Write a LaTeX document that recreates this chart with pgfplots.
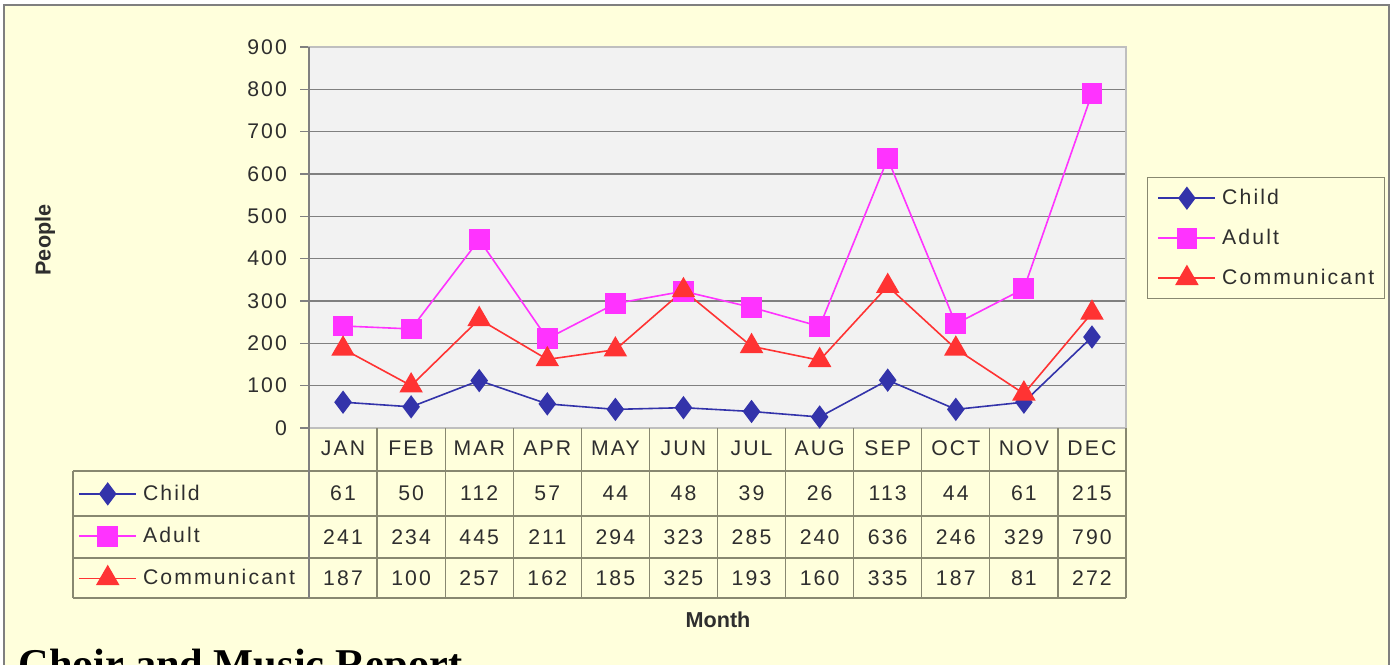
\documentclass[border=0pt]{standalone}
\usepackage{pgfplots}
\pgfplotsset{compat=1.18}
\usepackage{fontspec}
\setmainfont{Liberation Sans}[LetterSpace=10]
\newfontfamily\plainsans{Liberation Sans}
\newfontfamily\titlefont{Liberation Serif}
\definecolor{bgy}{HTML}{FFFFDC}
\definecolor{plotbg}{HTML}{F2F2F2}
\definecolor{txt}{HTML}{2E2E2E}
\definecolor{cblue}{HTML}{3333AA}
\definecolor{cmag}{HTML}{FF33FF}
\definecolor{cred}{HTML}{FF3333}
\definecolor{tline}{RGB}{136,136,112}
\definecolor{frame}{HTML}{7F7F7F}
\newcommand\lbl{\fontsize{10.6pt}{12pt}\selectfont}
\pgfplotsset{
  childstyle/.style={color=cblue, line width=0.8pt, mark=diamond*, mark size=5.2pt, mark options={solid, fill=cblue}},
  adultstyle/.style={color=cmag, line width=0.8pt, mark=square*, mark size=4.8pt, mark options={solid, fill=cmag}},
  commstyle/.style={color=cred, line width=0.8pt, mark=triangle*, mark size=6pt, mark options={solid, fill=cred}},
}
\tikzset{tab/.style={font=\lbl, text=txt, anchor=center, inner sep=0pt}}
\begin{document}
\begin{tikzpicture}
\useasboundingbox (0pt,0pt) rectangle (697.5pt,332pt);
\clip (0pt,0pt) rectangle (697.5pt,332pt);
\fill[bgy] (2pt,-10pt) rectangle (694.5pt,329.5pt);
\draw[frame, line width=0.75pt] (2pt,-10pt) -- (2pt,329.5pt) -- (694.5pt,329.5pt) -- (694.5pt,-10pt);
\begin{axis}[
  at={(154.5pt,118pt)}, anchor=south west, scale only axis,
  width=408.5pt, height=190.5pt,
  xmin=-0.5, xmax=11.5, ymin=0, ymax=900,
  xtick={0,...,11},
  xticklabels={JAN,FEB,MAR,APR,MAY,JUN,JUL,AUG,SEP,OCT,NOV,DEC},
  ytick={0,100,...,900},
  xtick pos=bottom, ytick pos=left,
  tick align=outside, major tick length=4.5pt,
  xtick style={draw=none},
  ytick style={draw=gray, line width=0.6pt},
  ymajorgrids, grid style={gray, line width=0.6pt},
  axis line style={draw=gray!50, line width=0.8pt},
  axis background/.style={fill=plotbg},
  tick label style={font=\lbl, text=txt},
  /pgf/number format/assume math mode=true,
  xticklabel style={anchor=center, yshift=-5.75pt},
  yticklabel style={xshift=-3pt},
  clip=false,
  legend style={at={(1.0257,0.6588)}, anchor=north west, fill=bgy, draw=tline,
    line width=0.6pt, inner xsep=5pt, inner ysep=0.3pt, row sep=0pt, column sep=3pt,
    font=\lbl, text=txt, nodes={minimum height=20pt, inner sep=0pt}},
  legend cell align=left,
  legend image code/.code={\draw[mark repeat=2,mark phase=2] plot coordinates {(0pt,0pt)(14.25pt,0pt)(28.5pt,0pt)};},
]
% data table grid
\draw[tline, line width=0.6pt] (axis cs:-3.966,-101.6) -- (axis cs:11.5,-101.6);
\draw[tline, line width=0.6pt] (axis cs:-3.966,-207.9) -- (axis cs:11.5,-207.9);
\draw[tline, line width=0.6pt] (axis cs:-3.966,-307.1) -- (axis cs:11.5,-307.1);
\draw[tline, line width=0.6pt] (axis cs:-3.966,-401.6) -- (axis cs:11.5,-401.6);
\draw[tline, line width=0.6pt] (axis cs:-3.966,-101.6) -- (axis cs:-3.966,-401.6);
\pgfplotsinvokeforeach{0,...,10}{\draw[tline, line width=0.6pt] (axis cs:#1+0.5,0) -- (axis cs:#1+0.5,-401.6);}
\draw[tline, line width=0.6pt] (axis cs:11.5,0) -- (axis cs:11.5,-401.6);
\draw[gray, line width=0.8pt] (axis cs:-0.5,900) -- (axis cs:-0.5,-401.6);

\addplot[childstyle] coordinates {(0,61)(1,50)(2,112)(3,57)(4,44)(5,48)(6,39)(7,26)(8,113)(9,44)(10,61)(11,215)};
\addlegendentry{Child}
\addplot[adultstyle] coordinates {(0,241)(1,234)(2,445)(3,211)(4,294)(5,323)(6,285)(7,240)(8,636)(9,246)(10,329)(11,790)};
\addlegendentry{Adult}
\addplot[commstyle] coordinates {(0,187)(1,100)(2,257)(3,162)(4,185)(5,325)(6,193)(7,160)(8,335)(9,187)(10,81)(11,272)};
\addlegendentry{Communicant}

% table values: Child
\node[tab] at (axis cs:0,-154.7) {61};
\node[tab] at (axis cs:1,-154.7) {50};
\node[tab] at (axis cs:2,-154.7) {112};
\node[tab] at (axis cs:3,-154.7) {57};
\node[tab] at (axis cs:4,-154.7) {44};
\node[tab] at (axis cs:5,-154.7) {48};
\node[tab] at (axis cs:6,-154.7) {39};
\node[tab] at (axis cs:7,-154.7) {26};
\node[tab] at (axis cs:8,-154.7) {113};
\node[tab] at (axis cs:9,-154.7) {44};
\node[tab] at (axis cs:10,-154.7) {61};
\node[tab] at (axis cs:11,-154.7) {215};
% Adult
\node[tab] at (axis cs:0,-257.5) {241};
\node[tab] at (axis cs:1,-257.5) {234};
\node[tab] at (axis cs:2,-257.5) {445};
\node[tab] at (axis cs:3,-257.5) {211};
\node[tab] at (axis cs:4,-257.5) {294};
\node[tab] at (axis cs:5,-257.5) {323};
\node[tab] at (axis cs:6,-257.5) {285};
\node[tab] at (axis cs:7,-257.5) {240};
\node[tab] at (axis cs:8,-257.5) {636};
\node[tab] at (axis cs:9,-257.5) {246};
\node[tab] at (axis cs:10,-257.5) {329};
\node[tab] at (axis cs:11,-257.5) {790};
% Communicant
\node[tab] at (axis cs:0,-354.3) {187};
\node[tab] at (axis cs:1,-354.3) {100};
\node[tab] at (axis cs:2,-354.3) {257};
\node[tab] at (axis cs:3,-354.3) {162};
\node[tab] at (axis cs:4,-354.3) {185};
\node[tab] at (axis cs:5,-354.3) {325};
\node[tab] at (axis cs:6,-354.3) {193};
\node[tab] at (axis cs:7,-354.3) {160};
\node[tab] at (axis cs:8,-354.3) {335};
\node[tab] at (axis cs:9,-354.3) {187};
\node[tab] at (axis cs:10,-354.3) {81};
\node[tab] at (axis cs:11,-354.3) {272};
\end{axis}

\begin{axis}[
  at={(154.5pt,118pt)}, anchor=south west, scale only axis,
  width=408.5pt, height=190.5pt, hide axis,
  xmin=0, xmax=1, ymin=0, ymax=1,
  legend style={at={(-0.2827,-0.11654)}, anchor=north west, fill=none, draw=none,
    inner sep=0pt, row sep=0pt, column sep=3pt,
    font=\lbl, text=txt, nodes={minimum height=21.1pt, inner sep=0pt}},
  legend cell align=left,
  legend image code/.code={\draw[mark repeat=2,mark phase=2] plot coordinates {(0pt,0pt)(14.25pt,0pt)(28.5pt,0pt)};},
]
\addlegendimage{childstyle}
\addlegendentry{Child}
\addlegendimage{adultstyle}
\addlegendentry{Adult}
\addlegendimage{commstyle}
\addlegendentry{Communicant}
\end{axis}

\node[rotate=90, font=\plainsans\fontsize{10.8pt}{12pt}\selectfont\bfseries, text=txt] at (22.5pt,212pt) {People};
\node[font=\plainsans\fontsize{10.8pt}{12pt}\selectfont\bfseries, text=txt] at (359pt,22pt) {Month};
\node[anchor=base west, inner sep=0pt, font={\titlefont\bfseries\fontsize{21.2pt}{24pt}\selectfont}] at (9pt,-7pt) {Choir and Music Report};
\end{tikzpicture}
\end{document}
